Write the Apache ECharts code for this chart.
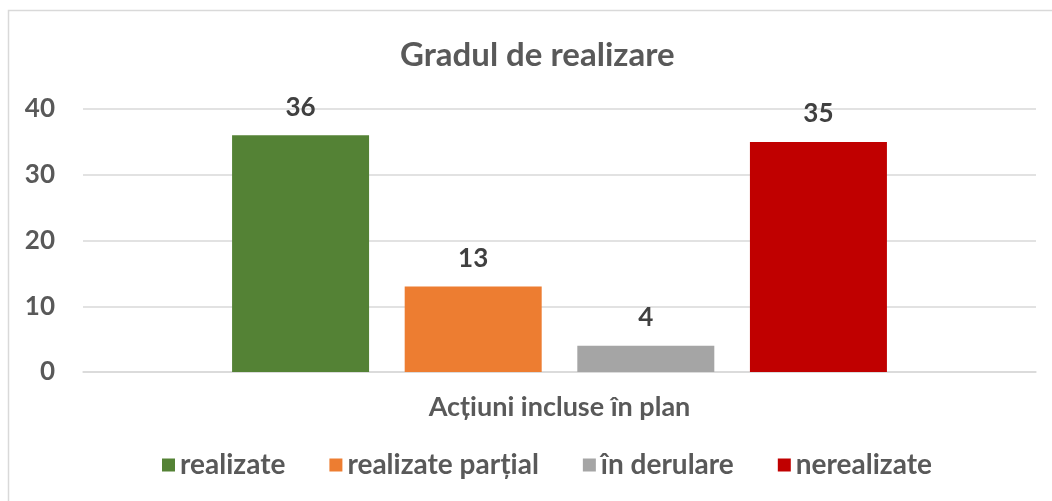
<!DOCTYPE html>
<html>
<head>
<meta charset="utf-8">
<title>Gradul de realizare</title>
<script src="https://cdn.jsdelivr.net/npm/echarts@6/dist/echarts.min.js"></script>
<style>
  html, body { margin: 0; padding: 0; background: #fff; }
  #main { width: 1052px; height: 501px; }
</style>
</head>
<body>
<div id="main"></div>
<script>
// date
var categories = ['Acțiuni incluse în plan'];
var seriesNames = ['realizate', 'realizate parțial', 'în derulare', 'nerealizate'];
var seriesValues = [[36], [13], [4], [35]];
var seriesColors = ['#548235', '#ED7D31', '#A5A5A5', '#C00000'];
var yTicks = { min: 0, max: 40, interval: 10 };

var font = 'Lato';
var textColor = '#595959';

var chart = echarts.init(document.getElementById('main'));

var series = seriesNames.map(function (name, i) {
  return {
    name: name,
    type: 'bar',
    data: seriesValues[i],
    barWidth: 137,
    barGap: '26%',
    itemStyle: { color: seriesColors[i] },
    label: {
      show: true,
      position: 'top',
      distance: 15,
      fontFamily: font,
      fontWeight: 'bold',
      fontSize: 26,
      color: '#404040'
    }
  };
});

chart.setOption({
  animation: false,
  title: {
    text: 'Gradul de realizare',
    left: 395,
    top: 34,
    textStyle: { fontFamily: font, fontWeight: 'bold', fontSize: 33, color: textColor }
  },
  graphic: [{
    type: 'rect',
    shape: { x: 8.5, y: 10.5, width: 1200, height: 600 },
    style: { fill: 'none', stroke: '#d9d9d9', lineWidth: 1.5 },
    silent: true
  }],
  legend: {
    data: seriesNames,
    bottom: 17,
    left: 157,
    itemWidth: 13,
    itemHeight: 13,
    itemGap: 44,
    icon: 'rect',
    textStyle: { fontFamily: font, fontWeight: 'bold', fontSize: 28, color: textColor }
  },
  grid: { left: 83, right: 16, top: 109, bottom: 129 },
  xAxis: {
    type: 'category',
    data: categories,
    axisLine: { show: true, lineStyle: { color: '#d9d9d9', width: 1.5 } },
    axisTick: { show: false },
    axisLabel: {
      margin: 22,
      fontFamily: font,
      fontWeight: 'bold',
      fontSize: 27,
      color: textColor
    }
  },
  yAxis: {
    type: 'value',
    min: yTicks.min,
    max: yTicks.max,
    interval: yTicks.interval,
    axisLine: { show: false },
    axisTick: { show: false },
    splitLine: { lineStyle: { color: '#d9d9d9', width: 1.5 } },
    axisLabel: {
      margin: 28,
      fontFamily: font,
      fontWeight: 'bold',
      fontSize: 26,
      color: textColor
    }
  },
  series: series
});
</script>
</body>
</html>
